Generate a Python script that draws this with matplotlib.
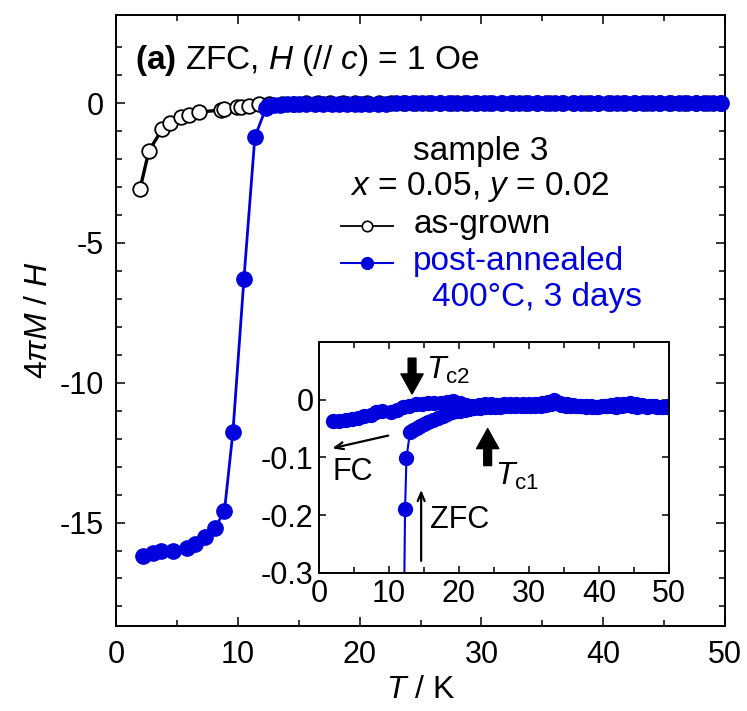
import matplotlib
matplotlib.use('Agg')
import matplotlib.pyplot as plt
from matplotlib.lines import Line2D

plt.rcParams['font.family'] = ['Liberation Sans', 'DejaVu Sans']
plt.rcParams['mathtext.fontset'] = 'custom'
plt.rcParams['mathtext.rm'] = 'Liberation Sans'
plt.rcParams['mathtext.it'] = 'Liberation Sans:italic'
plt.rcParams['mathtext.bf'] = 'Liberation Sans:bold'

BLUE = '#0000dd'

# as-grown, ZFC (open circles)
grown_T = [1.97, 2.7, 3.8, 4.4, 5.3, 6.0, 6.8, 8.6, 8.9, 9.9, 10.3, 10.9, 11.7,
           12.6, 13.6, 14.6, 15.6, 16.6, 17.6, 18.6, 19.6, 20.6, 21.6, 22.6, 23.6,
           24.6, 25.6, 26.6, 27.6, 28.6, 29.6, 30.6, 31.6, 32.6, 33.6, 34.6, 35.6,
           36.6, 37.6, 38.6, 39.6, 40.6, 41.6, 42.6, 43.6, 44.6, 45.6, 46.6, 47.6,
           48.6, 49.6, 50.0]
grown_M = [-3.07, -1.71, -0.93, -0.71, -0.50, -0.43, -0.32, -0.25, -0.21, -0.15, -0.13, -0.10, -0.05,
           -0.03, -0.02, -0.02, -0.01, -0.01, -0.01, -0.01, 0.0, 0.0, 0.0, 0.0, 0.0,
           0.0, 0.0, 0.0, 0.0, 0.0, 0.0, 0.0, 0.0, 0.0, 0.0, 0.0, 0.0,
           0.0, 0.0, 0.0, 0.0, 0.0, 0.0, 0.0, 0.0, 0.0, 0.0, 0.0, 0.0,
           0.0, 0.0, 0.0]

# post-annealed, ZFC (filled circles)
ann_T = [2.2, 3.0, 3.7, 4.7, 5.8, 6.5, 7.3, 8.1, 8.9, 9.6, 10.5, 11.4, 12.3, 12.5,
         13.0, 13.5, 14.0, 14.5, 15.0, 15.6, 16.3, 17.0, 17.7, 18.3, 19.0, 19.6,
         20.1, 20.8, 21.5, 22.2, 23.0, 23.7, 24.4, 25.1, 25.9, 26.6, 27.3, 28.0,
         28.8, 29.5, 30.2, 30.9, 31.7, 32.4, 33.1, 33.8, 34.6, 35.3, 36.0, 36.7,
         37.5, 38.2, 38.9, 39.6, 40.4, 41.1, 41.8, 42.5, 43.3, 44.0, 44.7, 45.4,
         46.2, 46.9, 47.6, 48.3, 49.0, 49.7]
ann_M = [-16.2, -16.1, -16.0, -16.0, -15.9, -15.75, -15.5, -15.2, -14.6, -11.75, -6.3, -1.21, -0.19, -0.101,
         -0.056, -0.052, -0.049, -0.046, -0.042, -0.038, -0.035, -0.031, -0.028, -0.025, -0.022, -0.020,
         -0.019, -0.017, -0.016, -0.015, -0.014, -0.013, -0.013, -0.012, -0.012, -0.011, -0.011, -0.010,
         -0.011, -0.010, -0.010, -0.011, -0.010, -0.009, -0.008, -0.004, -0.009, -0.010, -0.011, -0.010,
         -0.011, -0.012, -0.011, -0.012, -0.011, -0.010, -0.011, -0.012, -0.010, -0.009, -0.011, -0.012,
         -0.011, -0.012, -0.010, -0.012, -0.013, -0.012]

# post-annealed, FC (inset only)
fc_T = [2.0, 2.9, 3.8, 4.7, 5.6, 6.5, 7.4, 8.2, 9.0, 10.3, 11.1, 12.0, 12.9, 13.8,
        14.7, 15.6, 16.5, 17.4, 18.3, 19.2, 20.1, 21.0, 21.9, 22.8, 23.7, 24.6,
        25.5, 26.4, 27.3, 28.2, 29.1, 30.0, 30.9, 31.8, 32.7, 33.6, 34.5, 35.4,
        36.3, 37.2, 38.1, 39.0, 39.9, 40.8, 41.7, 42.6, 43.5, 44.4, 45.3, 46.2,
        47.1, 48.0, 48.9, 49.8]
fc_M = [-0.037, -0.036, -0.035, -0.034, -0.032, -0.029, -0.026, -0.022, -0.019, -0.021, -0.017, -0.013, -0.010, -0.008,
        -0.007, -0.006, -0.006, -0.005, -0.004, -0.003, -0.006, -0.009, -0.010, -0.009, -0.008, -0.008,
        -0.009, -0.008, -0.007, -0.008, -0.008, -0.007, -0.008, -0.006, -0.004, 0.000, -0.006, -0.008,
        -0.009, -0.010, -0.011, -0.012, -0.012, -0.010, -0.009, -0.008, -0.007, -0.006, -0.008, -0.009,
        -0.010, -0.011, -0.012, -0.011]

fig = plt.figure(figsize=(7.47, 7.11), dpi=100)
ax = fig.add_axes([0.1553, 0.1195, 0.8153, 0.8594])

ax.plot(grown_T, grown_M, '-o', color='black', lw=2.4, ms=10.5, mfc='white', mec='black', mew=1.3, zorder=2)
ax.plot(ann_T, ann_M, '-o', color=BLUE, lw=2.0, ms=11, mfc=BLUE, mec=BLUE, zorder=3, clip_on=False)

ax.set_xlim(0, 50)
ax.set_ylim(-18.7, 3.15)
ax.set_xticks([0, 10, 20, 30, 40, 50])
ax.set_xticks([5, 15, 25, 35, 45], minor=True)
ax.set_yticks([0, -5, -10, -15])
ax.set_yticklabels(['0', '-5', '-10', '-15'])
ax.set_yticks([2, 1, -1, -2, -3, -4, -6, -7, -8, -9, -11, -12, -13, -14, -16, -17, -18], minor=True)
ax.tick_params(which='both', direction='in', top=True, right=True, labelsize=22, width=1.1)
ax.tick_params(which='major', length=6.5)
ax.tick_params(which='minor', length=4.5)
ax.tick_params(axis='x', pad=10)
ax.tick_params(axis='y', pad=9)
for s in ax.spines.values():
    s.set_linewidth(1.4)
ax.set_xlabel(r'$T$ / K', fontsize=23, labelpad=4)
ax.set_ylabel(r'$4\pi M$ / $H$', fontsize=23, labelpad=4)

ax.text(0.031, 0.926, r'$\mathbf{(a)}$ ZFC, $H$ (// $c$) = 1 Oe', transform=ax.transAxes,
        fontsize=24, ha='left', va='center')

# legend block
ax.text(0.598, 0.776, 'sample 3', transform=ax.transAxes, fontsize=24, ha='center', va='center')
ax.text(0.598, 0.718, r'$x$ = 0.05, $y$ = 0.02', transform=ax.transAxes, fontsize=24, ha='center', va='center')
ax.add_line(Line2D([0.369, 0.455], [0.655, 0.655], transform=ax.transAxes, color='black', lw=1.3))
ax.add_line(Line2D([0.412], [0.655], transform=ax.transAxes, marker='o', ms=7.5, mfc='white', mec='black', mew=1.2))
ax.text(0.488, 0.657, 'as-grown', transform=ax.transAxes, fontsize=24, ha='left', va='center')
ax.add_line(Line2D([0.369, 0.455], [0.594, 0.594], transform=ax.transAxes, color=BLUE, lw=1.5))
ax.add_line(Line2D([0.412], [0.594], transform=ax.transAxes, marker='o', ms=8.5, mfc=BLUE, mec=BLUE))
ax.text(0.488, 0.596, 'post-annealed', transform=ax.transAxes, fontsize=24, ha='left', va='center', color=BLUE)
ax.text(0.519, 0.538, '400°C, 3 days', transform=ax.transAxes, fontsize=24, ha='left', va='center', color=BLUE)

# inset
ins = fig.add_axes([0.4270, 0.1941, 0.4685, 0.3249])
ins.plot(fc_T, fc_M, '-o', color=BLUE, lw=1.5, ms=10, mfc=BLUE, mec=BLUE)
ins.plot(ann_T, ann_M, '-o', color=BLUE, lw=1.5, ms=10, mfc=BLUE, mec=BLUE)
ins.set_xlim(0, 50)
ins.set_ylim(-0.3, 0.1)
ins.set_xticks([0, 10, 20, 30, 40, 50])
ins.set_xticks([5, 15, 25, 35, 45], minor=True)
ins.set_yticks([0, -0.1, -0.2, -0.3])
ins.set_yticklabels(['0', '-0.1', '-0.2', '-0.3'])
ins.tick_params(which='both', direction='in', top=True, right=True, labelsize=22, width=1.1)
ins.tick_params(which='major', length=5)
ins.tick_params(which='minor', length=4)
ins.tick_params(axis='x', pad=4)
ins.tick_params(axis='y', pad=4)
for s in ins.spines.values():
    s.set_linewidth(1.4)

thick = dict(arrowstyle='simple,head_width=1.0,head_length=0.9,tail_width=0.35',
             color='black', mutation_scale=16, shrinkA=0, shrinkB=0)
thin = dict(arrowstyle='->,head_width=0.25,head_length=0.6', color='black', lw=1.6,
            shrinkA=0, shrinkB=0)
ins.annotate('', xy=(13.3, 0.010), xytext=(13.3, 0.072), arrowprops=thick)
ins.text(15.3, 0.050, r'$T_{\rm c2}$', fontsize=23, ha='left', va='center')
ins.annotate('', xy=(24.1, -0.050), xytext=(24.1, -0.114), arrowprops=thick)
ins.text(25.2, -0.132, r'$T_{\rm c1}$', fontsize=23, ha='left', va='center')
ins.annotate('', xy=(1.9, -0.084), xytext=(9.9, -0.062), arrowprops=thin)
ins.text(2.0, -0.125, 'FC', fontsize=22, ha='left', va='center')
ins.annotate('', xy=(14.6, -0.156), xytext=(14.6, -0.279), arrowprops=thin)
ins.text(15.9, -0.209, 'ZFC', fontsize=22, ha='left', va='center')

fig.savefig('out.png', dpi=100)
